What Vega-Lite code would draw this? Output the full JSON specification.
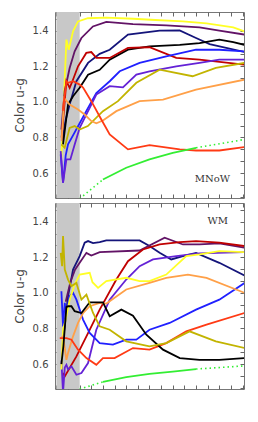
{
"$schema": "https://vega.github.io/schema/vega-lite/v6.json",
"background": "white",
"padding": {"left": 12, "top": 11, "right": 10, "bottom": 5},
"config": {"view": {"stroke": "#777", "strokeWidth": 1}, "concat": {"spacing": 3}},
"datasets": {
"mnow": [
{"s":"yellow","x":0.43,"y":0.686},{"s":"yellow","x":0.86,"y":1.35},{"s":"yellow","x":1.06,"y":1.293},{"s":"yellow","x":1.43,"y":1.396},{"s":"yellow","x":1.86,"y":1.452},{"s":"yellow","x":2.7,"y":1.47},{"s":"yellow","x":4.3,"y":1.473},{"s":"yellow","x":6.58,"y":1.467},{"s":"yellow","x":8.5,"y":1.46},{"s":"yellow","x":10.87,"y":1.452},{"s":"yellow","x":12.9,"y":1.441},{"s":"yellow","x":15.2,"y":1.419},{"s":"yellow","x":16.17,"y":1.396},
{"s":"purple","x":0.43,"y":0.845},{"s":"purple","x":0.71,"y":1.06},{"s":"purple","x":1.14,"y":1.19},{"s":"purple","x":1.57,"y":1.284},{"s":"purple","x":2.15,"y":1.359},{"s":"purple","x":3.14,"y":1.424},{"s":"purple","x":4.29,"y":1.449},{"s":"purple","x":6.58,"y":1.437},{"s":"purple","x":9.44,"y":1.43},{"s":"purple","x":12.3,"y":1.419},{"s":"purple","x":14.0,"y":1.4},{"s":"purple","x":16.17,"y":1.378},
{"s":"navy","x":0.5,"y":0.78},{"s":"navy","x":0.8,"y":0.9},{"s":"navy","x":1.2,"y":1.0},{"s":"navy","x":1.72,"y":1.116},{"s":"navy","x":2.72,"y":1.219},{"s":"navy","x":3.72,"y":1.27},{"s":"navy","x":4.58,"y":1.293},{"s":"navy","x":6.15,"y":1.378},{"s":"navy","x":8.87,"y":1.4},{"s":"navy","x":10.59,"y":1.402},{"s":"navy","x":12.0,"y":1.359},{"s":"navy","x":13.16,"y":1.325},{"s":"navy","x":16.17,"y":1.28},
{"s":"black","x":0.57,"y":0.761},{"s":"black","x":1.0,"y":0.985},{"s":"black","x":1.43,"y":1.032},{"s":"black","x":2.0,"y":1.079},{"s":"black","x":2.72,"y":1.153},{"s":"black","x":3.72,"y":1.18},{"s":"black","x":4.58,"y":1.237},{"s":"black","x":6.15,"y":1.293},{"s":"black","x":8.0,"y":1.312},{"s":"black","x":10.6,"y":1.32},{"s":"black","x":12.3,"y":1.33},{"s":"black","x":14.0,"y":1.35},{"s":"black","x":15.2,"y":1.336},{"s":"black","x":16.17,"y":1.32},
{"s":"darkred","x":0.45,"y":0.8},{"s":"darkred","x":0.57,"y":0.892},{"s":"darkred","x":0.86,"y":1.116},{"s":"darkred","x":1.14,"y":1.079},{"s":"darkred","x":1.4,"y":1.12},{"s":"darkred","x":1.86,"y":1.2},{"s":"darkred","x":2.57,"y":1.275},{"s":"darkred","x":3.0,"y":1.28},{"s":"darkred","x":3.43,"y":1.247},{"s":"darkred","x":4.58,"y":1.247},{"s":"darkred","x":6.15,"y":1.303},{"s":"darkred","x":8.0,"y":1.307},{"s":"darkred","x":10.3,"y":1.247},{"s":"darkred","x":12.3,"y":1.237},{"s":"darkred","x":16.17,"y":1.209},
{"s":"blue","x":0.37,"y":0.705},{"s":"blue","x":0.57,"y":0.546},{"s":"blue","x":0.8,"y":0.7},{"s":"blue","x":1.0,"y":0.761},{"s":"blue","x":1.5,"y":0.82},{"s":"blue","x":2.0,"y":0.88},{"s":"blue","x":2.72,"y":0.966},{"s":"blue","x":3.43,"y":1.05},{"s":"blue","x":4.58,"y":1.116},{"s":"blue","x":5.44,"y":1.172},{"s":"blue","x":7.15,"y":1.219},{"s":"blue","x":9.44,"y":1.256},{"s":"blue","x":12.0,"y":1.293},{"s":"blue","x":14.0,"y":1.293},{"s":"blue","x":16.17,"y":1.284},
{"s":"blueviolet","x":0.37,"y":0.723},{"s":"blueviolet","x":0.57,"y":0.546},{"s":"blueviolet","x":0.86,"y":0.677},{"s":"blueviolet","x":1.2,"y":0.677},{"s":"blueviolet","x":1.57,"y":0.761},{"s":"blueviolet","x":2.0,"y":0.854},{"s":"blueviolet","x":2.58,"y":0.93},{"s":"blueviolet","x":3.43,"y":1.041},{"s":"blueviolet","x":4.58,"y":1.088},{"s":"blueviolet","x":5.72,"y":1.082},{"s":"blueviolet","x":6.87,"y":1.153},{"s":"blueviolet","x":8.0,"y":1.172},{"s":"blueviolet","x":10.3,"y":1.2},{"s":"blueviolet","x":12.3,"y":1.219},{"s":"blueviolet","x":14.0,"y":1.237},{"s":"blueviolet","x":16.17,"y":1.237},
{"s":"olive","x":0.43,"y":0.761},{"s":"olive","x":0.71,"y":0.742},{"s":"olive","x":1.14,"y":0.854},{"s":"olive","x":1.57,"y":0.864},{"s":"olive","x":2.0,"y":0.845},{"s":"olive","x":2.7,"y":0.864},{"s":"olive","x":4.0,"y":0.948},{"s":"olive","x":5.29,"y":1.004},{"s":"olive","x":6.87,"y":1.107},{"s":"olive","x":8.87,"y":1.181},{"s":"olive","x":11.7,"y":1.144},{"s":"olive","x":13.7,"y":1.191},{"s":"olive","x":16.17,"y":1.219},
{"s":"orange","x":0.45,"y":0.78},{"s":"orange","x":0.66,"y":1.022},{"s":"orange","x":1.14,"y":0.985},{"s":"orange","x":1.86,"y":0.957},{"s":"orange","x":2.43,"y":0.929},{"s":"orange","x":3.0,"y":0.892},{"s":"orange","x":3.43,"y":0.88},{"s":"orange","x":4.0,"y":0.895},{"s":"orange","x":5.15,"y":0.948},{"s":"orange","x":7.15,"y":1.004},{"s":"orange","x":9.16,"y":1.013},{"s":"orange","x":12.0,"y":1.069},{"s":"orange","x":16.17,"y":1.125},
{"s":"redorange","x":0.55,"y":0.95},{"s":"redorange","x":0.86,"y":1.116},{"s":"redorange","x":1.0,"y":1.107},{"s":"redorange","x":1.43,"y":1.116},{"s":"redorange","x":2.0,"y":1.097},{"s":"redorange","x":2.29,"y":1.08},{"s":"redorange","x":3.0,"y":1.004},{"s":"redorange","x":3.86,"y":0.901},{"s":"redorange","x":4.58,"y":0.817},{"s":"redorange","x":6.15,"y":0.733},{"s":"redorange","x":8.0,"y":0.757},{"s":"redorange","x":10.6,"y":0.733},{"s":"redorange","x":12.0,"y":0.727},{"s":"redorange","x":14.0,"y":0.727},{"s":"redorange","x":16.17,"y":0.746},
{"s":"green","x":4.0,"y":0.564},{"s":"green","x":6.0,"y":0.63},{"s":"green","x":8.0,"y":0.677},{"s":"green","x":10.0,"y":0.714},{"s":"green","x":12.0,"y":0.742},
{"s":"green-early","x":2.0,"y":0.456,"kind":"extrapolated"},{"s":"green-early","x":4.0,"y":0.564,"kind":"extrapolated"},
{"s":"green-late","x":12.0,"y":0.742,"kind":"extrapolated"},{"s":"green-late","x":16.17,"y":0.789,"kind":"extrapolated"}
],
"wm": [
{"s":"navy","x":0.6,"y":0.75},{"s":"navy","x":1.0,"y":0.98},{"s":"navy","x":1.43,"y":1.131},{"s":"navy","x":2.0,"y":1.207},{"s":"navy","x":2.43,"y":1.282},{"s":"navy","x":2.72,"y":1.291},{"s":"navy","x":3.15,"y":1.28},{"s":"navy","x":3.72,"y":1.285},{"s":"navy","x":4.29,"y":1.295},{"s":"navy","x":7.15,"y":1.295},{"s":"navy","x":8.0,"y":1.263},{"s":"navy","x":8.87,"y":1.225},{"s":"navy","x":9.87,"y":1.188},{"s":"navy","x":10.87,"y":1.207},{"s":"navy","x":12.0,"y":1.225},{"s":"navy","x":14.0,"y":1.169},{"s":"navy","x":16.17,"y":1.098},
{"s":"purple","x":0.8,"y":0.95},{"s":"purple","x":1.2,"y":1.06},{"s":"purple","x":1.6,"y":1.13},{"s":"purple","x":2.0,"y":1.169},{"s":"purple","x":2.58,"y":1.225},{"s":"purple","x":3.0,"y":1.21},{"s":"purple","x":3.72,"y":1.229},{"s":"purple","x":7.15,"y":1.238},{"s":"purple","x":9.3,"y":1.31},{"s":"purple","x":10.87,"y":1.272},{"s":"purple","x":12.3,"y":1.272},{"s":"purple","x":14.0,"y":1.278},{"s":"purple","x":16.17,"y":1.254},
{"s":"darkred","x":0.57,"y":0.55},{"s":"darkred","x":0.72,"y":0.531},{"s":"darkred","x":1.72,"y":0.643},{"s":"darkred","x":2.58,"y":0.756},{"s":"darkred","x":3.72,"y":0.906},{"s":"darkred","x":5.15,"y":1.075},{"s":"darkred","x":6.15,"y":1.178},{"s":"darkred","x":7.44,"y":1.244},{"s":"darkred","x":8.87,"y":1.272},{"s":"darkred","x":10.6,"y":1.285},{"s":"darkred","x":12.0,"y":1.291},{"s":"darkred","x":14.0,"y":1.282},{"s":"darkred","x":16.17,"y":1.263},
{"s":"blueviolet","x":0.43,"y":0.62},{"s":"blueviolet","x":0.57,"y":0.44},{"s":"blueviolet","x":0.72,"y":0.58},{"s":"blueviolet","x":0.86,"y":0.596},{"s":"blueviolet","x":1.0,"y":0.57},{"s":"blueviolet","x":1.29,"y":0.587},{"s":"blueviolet","x":1.72,"y":0.54},{"s":"blueviolet","x":2.15,"y":0.55},{"s":"blueviolet","x":2.72,"y":0.606},{"s":"blueviolet","x":3.43,"y":0.793},{"s":"blueviolet","x":4.58,"y":0.962},{"s":"blueviolet","x":6.0,"y":1.075},{"s":"blueviolet","x":7.15,"y":1.15},{"s":"blueviolet","x":8.3,"y":1.188},{"s":"blueviolet","x":10.3,"y":1.207},{"s":"blueviolet","x":12.3,"y":1.222},{"s":"blueviolet","x":16.17,"y":1.229},
{"s":"blue","x":0.43,"y":1.009},{"s":"blue","x":0.57,"y":0.812},{"s":"blue","x":0.72,"y":0.944},{"s":"blue","x":0.86,"y":0.887},{"s":"blue","x":1.14,"y":0.981},{"s":"blue","x":1.43,"y":1.0},{"s":"blue","x":1.72,"y":0.962},{"s":"blue","x":2.29,"y":0.85},{"s":"blue","x":2.86,"y":0.775},{"s":"blue","x":3.72,"y":0.718},{"s":"blue","x":4.86,"y":0.709},{"s":"blue","x":6.0,"y":0.737},{"s":"blue","x":6.87,"y":0.737},{"s":"blue","x":8.0,"y":0.793},{"s":"blue","x":9.73,"y":0.831},{"s":"blue","x":12.0,"y":0.906},{"s":"blue","x":14.0,"y":0.962},{"s":"blue","x":16.17,"y":1.056},
{"s":"yellow","x":0.43,"y":0.57},{"s":"yellow","x":0.57,"y":0.793},{"s":"yellow","x":0.8,"y":0.85},{"s":"yellow","x":1.14,"y":0.962},{"s":"yellow","x":1.57,"y":1.047},{"s":"yellow","x":2.0,"y":1.103},{"s":"yellow","x":2.86,"y":1.113},{"s":"yellow","x":3.1,"y":1.06},{"s":"yellow","x":3.58,"y":1.028},{"s":"yellow","x":4.29,"y":1.066},{"s":"yellow","x":6.0,"y":1.085},{"s":"yellow","x":7.15,"y":1.066},{"s":"yellow","x":8.0,"y":1.066},{"s":"yellow","x":9.44,"y":1.103},{"s":"yellow","x":11.16,"y":1.207},{"s":"yellow","x":12.3,"y":1.216},{"s":"yellow","x":14.0,"y":1.235},{"s":"yellow","x":16.17,"y":1.229},
{"s":"orange","x":0.43,"y":0.75},{"s":"orange","x":0.57,"y":0.756},{"s":"orange","x":0.86,"y":0.624},{"s":"orange","x":1.0,"y":0.662},{"s":"orange","x":1.43,"y":0.756},{"s":"orange","x":1.86,"y":0.831},{"s":"orange","x":2.29,"y":0.887},{"s":"orange","x":2.86,"y":0.925},{"s":"orange","x":3.72,"y":0.944},{"s":"orange","x":4.3,"y":0.94},{"s":"orange","x":6.0,"y":1.019},{"s":"orange","x":8.0,"y":1.056},{"s":"orange","x":9.44,"y":1.084},{"s":"orange","x":11.3,"y":1.103},{"s":"orange","x":12.9,"y":1.084},{"s":"orange","x":16.17,"y":1.0},
{"s":"redorange","x":0.29,"y":0.746},{"s":"redorange","x":0.86,"y":0.746},{"s":"redorange","x":1.29,"y":0.737},{"s":"redorange","x":1.86,"y":0.681},{"s":"redorange","x":2.58,"y":0.634},{"s":"redorange","x":3.43,"y":0.596},{"s":"redorange","x":4.0,"y":0.634},{"s":"redorange","x":5.0,"y":0.634},{"s":"redorange","x":6.58,"y":0.69},{"s":"redorange","x":8.0,"y":0.681},{"s":"redorange","x":9.44,"y":0.718},{"s":"redorange","x":11.16,"y":0.784},{"s":"redorange","x":12.9,"y":0.822},{"s":"redorange","x":16.17,"y":0.887},
{"s":"black","x":0.43,"y":0.6},{"s":"black","x":0.6,"y":0.7},{"s":"black","x":0.86,"y":0.92},{"s":"black","x":1.0,"y":0.925},{"s":"black","x":1.29,"y":0.925},{"s":"black","x":1.57,"y":0.897},{"s":"black","x":2.15,"y":0.887},{"s":"black","x":2.86,"y":0.947},{"s":"black","x":4.0,"y":0.947},{"s":"black","x":4.58,"y":0.869},{"s":"black","x":5.58,"y":0.906},{"s":"black","x":6.58,"y":0.872},{"s":"black","x":7.73,"y":0.765},{"s":"black","x":9.16,"y":0.681},{"s":"black","x":10.6,"y":0.634},{"s":"black","x":12.3,"y":0.624},{"s":"black","x":14.0,"y":0.624},{"s":"black","x":16.17,"y":0.634},
{"s":"olive","x":0.37,"y":1.225},{"s":"olive","x":0.49,"y":1.15},{"s":"olive","x":0.57,"y":1.319},{"s":"olive","x":0.72,"y":1.131},{"s":"olive","x":1.0,"y":1.075},{"s":"olive","x":1.29,"y":1.038},{"s":"olive","x":1.72,"y":1.056},{"s":"olive","x":2.15,"y":0.962},{"s":"olive","x":2.58,"y":0.99},{"s":"olive","x":3.15,"y":0.887},{"s":"olive","x":3.72,"y":0.812},{"s":"olive","x":4.58,"y":0.793},{"s":"olive","x":6.0,"y":0.728},{"s":"olive","x":8.0,"y":0.7},{"s":"olive","x":9.44,"y":0.718},{"s":"olive","x":11.44,"y":0.784},{"s":"olive","x":13.7,"y":0.728},{"s":"olive","x":16.17,"y":0.69},
{"s":"green","x":4.0,"y":0.5},{"s":"green","x":6.0,"y":0.527},{"s":"green","x":8.0,"y":0.545},{"s":"green","x":10.0,"y":0.558},{"s":"green","x":12.0,"y":0.572},
{"s":"green-early","x":2.0,"y":0.46,"kind":"extrapolated"},{"s":"green-early","x":4.0,"y":0.5,"kind":"extrapolated"},
{"s":"green-late","x":12.0,"y":0.572,"kind":"extrapolated"},{"s":"green-late","x":16.17,"y":0.59,"kind":"extrapolated"}
]
},
"vconcat": [
{
"width": 189, "height": 186,
"layer": [
{"data": {"values": [{"x0": 0, "x1": 2}]}, "mark": {"type": "rect", "color": "#c8c8c8"},
 "encoding": {"x": {"field": "x0", "type": "quantitative", "scale": {"domain": [-0.12, 16.12], "nice": false, "zero": false}, "axis": null}, "x2": {"field": "x1"}}},
{"data": {"name": "mnow"}, "transform": [{"filter": "datum.kind != 'extrapolated'"}],
 "mark": {"type": "line", "strokeWidth": 1.8, "clip": true},
 "encoding": {
  "x": {"field": "x", "type": "quantitative", "scale": {"domain": [-0.12, 16.12], "nice": false, "zero": false},
        "axis": {"orient": "bottom", "values": [0,1,2,3,4,5,6,7,8,9,10,11,12,13,14,15,16], "labels": false, "title": null, "domain": false, "grid": false, "tickSize": -4, "tickColor": "#666"}},
  "y": {"field": "y", "type": "quantitative", "scale": {"domain": [0.46, 1.505], "nice": false, "zero": false},
        "axis": {"orient": "left", "values": [0.4667,0.5333,0.6,0.6667,0.7333,0.8,0.8667,0.9333,1.0,1.0667,1.1333,1.2,1.2667,1.3333,1.4,1.4667],
                 "labelExpr": "abs(datum.value*5 - round(datum.value*5)) < 0.01 ? format(datum.value, '.1f') : ''",
                 "domain": false, "grid": false, "tickSize": -4, "tickColor": "#666", "labelPadding": 11, "labelFont": "DejaVu Sans", "labelFontSize": 10, "labelColor": "#444",
                 "title": "Color u-g", "titleFont": "DejaVu Sans", "titleFontSize": 12, "titleFontWeight": "normal", "titleColor": "#444", "titlePadding": 6}},
  "color": {"field": "s", "type": "nominal", "legend": null,
    "scale": {"domain": ["yellow","purple","navy","black","darkred","blue","blueviolet","olive","orange","redorange","green","green-early","green-late"],
              "range": ["#ffff26","#621366","#14147a","#000000","#c00000","#2020ff","#6422d6","#c2b400","#ffa048","#ff3a14","#33ee33","#33ee33","#33ee33"]}}
 }},
{"data": {"name": "mnow"}, "transform": [{"filter": "datum.kind == 'extrapolated'"}],
 "mark": {"type": "line", "strokeWidth": 1.6, "strokeDash": [1.5, 3], "clip": true},
 "encoding": {
  "x": {"field": "x", "type": "quantitative", "axis": {"orient": "top", "values": [0,1,2,3,4,5,6,7,8,9,10,11,12,13,14,15,16], "labels": false, "title": null, "domain": false, "grid": false, "tickSize": -4, "tickColor": "#666"}},
  "y": {"field": "y", "type": "quantitative", "axis": {"orient": "right", "values": [0.4667,0.5333,0.6,0.6667,0.7333,0.8,0.8667,0.9333,1.0,1.0667,1.1333,1.2,1.2667,1.3333,1.4,1.4667], "labels": false, "title": null, "domain": false, "grid": false, "tickSize": -4, "tickColor": "#666"}},
  "color": {"field": "s", "type": "nominal", "legend": null},
  "detail": {"field": "s"}
 }},
{"data": {"values": [{"label": "MNoW", "x": 13.4, "y": 0.565}]},
 "mark": {"type": "text", "font": "DejaVu Serif", "fontSize": 10, "color": "#333", "align": "center", "baseline": "middle"},
 "encoding": {"x": {"field": "x", "type": "quantitative", "axis": null}, "y": {"field": "y", "type": "quantitative", "axis": null}, "text": {"field": "label"}}}
],
"resolve": {"axis": {"x": "independent", "y": "independent"}}
},
{
"width": 189, "height": 186,
"layer": [
{"data": {"values": [{"x0": 0, "x1": 2}]}, "mark": {"type": "rect", "color": "#c8c8c8"},
 "encoding": {"x": {"field": "x0", "type": "quantitative", "scale": {"domain": [-0.12, 16.12], "nice": false, "zero": false}, "axis": null}, "x2": {"field": "x1"}}},
{"data": {"name": "wm"}, "transform": [{"filter": "datum.kind != 'extrapolated'"}],
 "mark": {"type": "line", "strokeWidth": 1.8, "clip": true},
 "encoding": {
  "x": {"field": "x", "type": "quantitative", "scale": {"domain": [-0.12, 16.12], "nice": false, "zero": false},
        "axis": {"orient": "bottom", "values": [0,1,2,3,4,5,6,7,8,9,10,11,12,13,14,15,16], "labels": false, "title": null, "domain": false, "grid": false, "tickSize": -4, "tickColor": "#666"}},
  "y": {"field": "y", "type": "quantitative", "scale": {"domain": [0.46, 1.505], "nice": false, "zero": false},
        "axis": {"orient": "left", "values": [0.4667,0.5333,0.6,0.6667,0.7333,0.8,0.8667,0.9333,1.0,1.0667,1.1333,1.2,1.2667,1.3333,1.4,1.4667],
                 "labelExpr": "abs(datum.value*5 - round(datum.value*5)) < 0.01 ? format(datum.value, '.1f') : ''",
                 "domain": false, "grid": false, "tickSize": -4, "tickColor": "#666", "labelPadding": 11, "labelFont": "DejaVu Sans", "labelFontSize": 10, "labelColor": "#444",
                 "title": "Color u-g", "titleFont": "DejaVu Sans", "titleFontSize": 12, "titleFontWeight": "normal", "titleColor": "#444", "titlePadding": 6}},
  "color": {"field": "s", "type": "nominal", "legend": null,
    "scale": {"domain": ["yellow","purple","navy","black","darkred","blue","blueviolet","olive","orange","redorange","green","green-early","green-late"],
              "range": ["#ffff26","#621366","#14147a","#000000","#c00000","#2020ff","#6422d6","#c2b400","#ffa048","#ff3a14","#33ee33","#33ee33","#33ee33"]}}
 }},
{"data": {"name": "wm"}, "transform": [{"filter": "datum.kind == 'extrapolated'"}],
 "mark": {"type": "line", "strokeWidth": 1.6, "strokeDash": [1.5, 3], "clip": true},
 "encoding": {
  "x": {"field": "x", "type": "quantitative", "axis": {"orient": "top", "values": [0,1,2,3,4,5,6,7,8,9,10,11,12,13,14,15,16], "labels": false, "title": null, "domain": false, "grid": false, "tickSize": -4, "tickColor": "#666"}},
  "y": {"field": "y", "type": "quantitative", "axis": {"orient": "right", "values": [0.4667,0.5333,0.6,0.6667,0.7333,0.8,0.8667,0.9333,1.0,1.0667,1.1333,1.2,1.2667,1.3333,1.4,1.4667], "labels": false, "title": null, "domain": false, "grid": false, "tickSize": -4, "tickColor": "#666"}},
  "color": {"field": "s", "type": "nominal", "legend": null},
  "detail": {"field": "s"}
 }},
{"data": {"values": [{"label": "WM", "x": 13.87, "y": 1.404}]},
 "mark": {"type": "text", "font": "DejaVu Serif", "fontSize": 10, "color": "#333", "align": "center", "baseline": "middle"},
 "encoding": {"x": {"field": "x", "type": "quantitative", "axis": null}, "y": {"field": "y", "type": "quantitative", "axis": null}, "text": {"field": "label"}}}
],
"resolve": {"axis": {"x": "independent", "y": "independent"}}
}
]
}
